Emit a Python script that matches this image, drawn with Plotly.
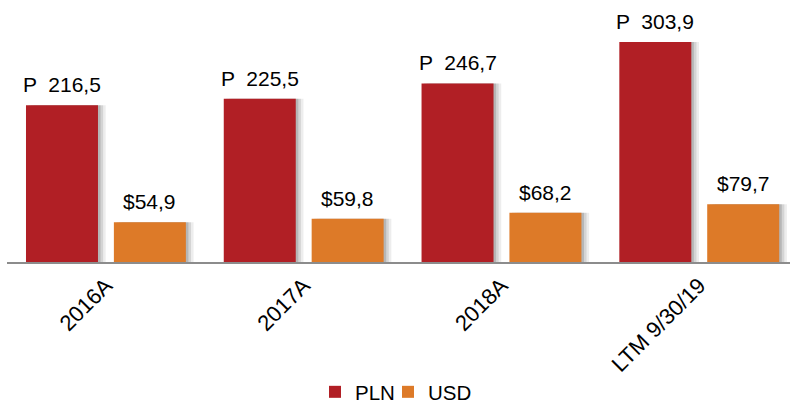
import plotly.graph_objects as go

categories = ["2016A", "2017A", "2018A", "LTM 9/30/19"]
pln = [216.5, 225.5, 246.7, 303.9]
usd = [54.9, 59.8, 68.2, 79.7]
pln_labels = ["P  216,5", "P  225,5", "P  246,7", "P  303,9"]
usd_labels = ["$54,9", "$59,8", "$68,2", "$79,7"]

RED = "#B11F25"
ORANGE = "#DD7A28"
FONT = "Liberation Sans, Arial, sans-serif"

xs = list(range(len(categories)))
W = 0.364
OFF_PLN = -0.404
OFF_USD = 0.0404
SH = 0.013

fig = go.Figure()
# soft drop shadows to the right of each bar
for off, vals in ((OFF_PLN, pln), (OFF_USD, usd)):
    for k, a in ((3, 0.07), (2, 0.10), (1, 0.14)):
        fig.add_trace(go.Bar(x=xs, y=vals, width=W, offset=off + SH * k,
                             marker=dict(color=f"rgba(0,0,0,{a})", line=dict(width=0)),
                             showlegend=False, hoverinfo="skip"))

fig.add_trace(go.Bar(x=xs, y=pln, width=W, offset=OFF_PLN, name="PLN",
                     marker=dict(color=RED, line=dict(width=0)), legend="legend"))
fig.add_trace(go.Bar(x=xs, y=usd, width=W, offset=OFF_USD, name="USD",
                     marker=dict(color=ORANGE, line=dict(width=0)), legend="legend2"))

for i in xs:
    fig.add_annotation(x=i + OFF_PLN + W / 2, y=pln[i], text=pln_labels[i],
                       showarrow=False, yanchor="bottom", yshift=7,
                       font=dict(size=21, color="#000", family=FONT))
    fig.add_annotation(x=i + OFF_USD + W / 2, y=usd[i], text=usd_labels[i],
                       showarrow=False, yanchor="bottom", yshift=7,
                       font=dict(size=21, color="#000", family=FONT))

leg_common = dict(orientation="h", xref="container", yref="container",
                  xanchor="left", y=(405 - 392) / 405, yanchor="middle",
                  font=dict(size=20.5), itemwidth=30, bgcolor="rgba(0,0,0,0)")

fig.update_layout(
    width=790, height=405,
    margin=dict(l=7, r=0, t=0, b=143),
    barmode="overlay",
    plot_bgcolor="white", paper_bgcolor="white",
    font=dict(family=FONT, size=21, color="#000"),
    xaxis=dict(range=[-0.5, 3.459], tickmode="array", tickvals=xs, ticktext=categories,
               tickangle=-45, showgrid=False, zeroline=False, showline=True,
               linecolor="#8c8c8c", linewidth=2, ticks="", fixedrange=True,
               automargin=False, tickfont=dict(size=22)),
    yaxis=dict(range=[0, 362], visible=False, showgrid=False, zeroline=False,
               fixedrange=True),
    legend=dict(leg_common, x=315 / 790),
    legend2=dict(leg_common, x=388 / 790),
    showlegend=True,
)

fig.write_html("out.html", post_script="document.body.style.margin='0';",
               config={"displayModeBar": False})
